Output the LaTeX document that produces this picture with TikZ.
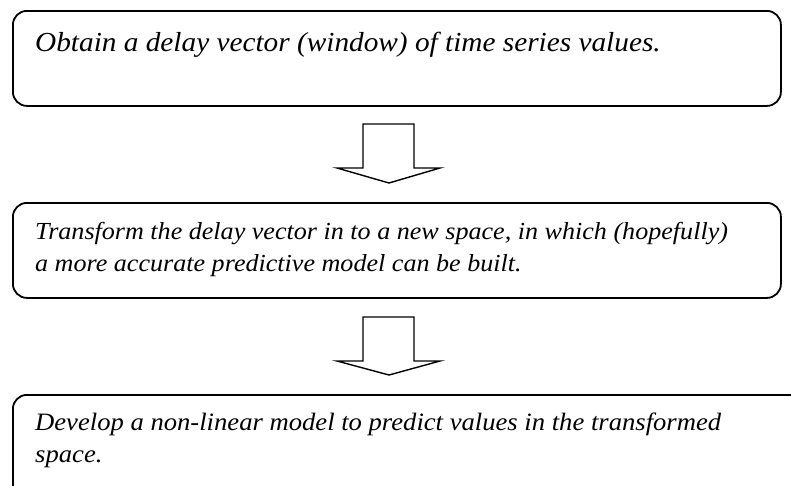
\documentclass[tikz,border=0pt]{standalone}
\usepackage{fontspec}
\setmainfont{Liberation Serif}
\newfontfamily\widefont{Liberation Serif}[FakeStretch=1.065]
\usetikzlibrary{calc}
\begin{document}
\begin{tikzpicture}[x=1pt,y=-1pt,
  stepbox/.style={draw=black, line width=1.8pt, rounded corners=14pt, fill=white, inner sep=0pt, anchor=north west},
  steptext/.style={anchor=base west, inner sep=0pt, align=left},
  bigtext/.style={font=\widefont\fontsize{27.5}{33}\selectfont\itshape},
  smalltext/.style={font=\widefont\fontsize{24.5}{31.5}\selectfont\itshape},
  lowtext/.style={font=\widefont\fontsize{25}{31.5}\selectfont\itshape},
  blockarrow/.style={draw=black, line width=1.4pt, fill=white, line join=miter}]
  \useasboundingbox (0,0) rectangle (791,485);
  \clip (0,0) rectangle (791,485);

  % step boxes
  \node[stepbox, minimum width=768pt, minimum height=95pt] (b1) at (12,10) {};
  \node[stepbox, minimum width=768pt, minimum height=95pt] (b2) at (12,202) {};
  \node[stepbox, minimum width=800pt, minimum height=120pt] (b3) at (12,394) {};

  % texts (anchored at the baseline of their last line)
  \node[steptext, bigtext] (t1) at (35,51) {Obtain a delay vector (window) of time series values.};
  \node[steptext, smalltext] (t2) at (35,271) {Transform the delay vector in to a new space, in which (hopefully)\\a more accurate predictive model can be built.};
  \node[steptext, lowtext] (t3) at (35,462) {Develop a non-linear model to predict values in the transformed\\space.};

  % block arrows between steps
  \coordinate (a1) at (389,124);
  \draw[blockarrow] ($(a1)+(-26,0)$) -- ($(a1)+(25,0)$) -- ($(a1)+(25,44)$) -- ($(a1)+(51,44)$)
     -- ($(a1)+(0,59)$) -- ($(a1)+(-52,44)$) -- ($(a1)+(-26,44)$) -- cycle;
  \coordinate (a2) at (389,317);
  \draw[blockarrow] ($(a2)+(-26,0)$) -- ($(a2)+(25,0)$) -- ($(a2)+(25,44)$) -- ($(a2)+(51,44)$)
     -- ($(a2)+(0,58)$) -- ($(a2)+(-52,44)$) -- ($(a2)+(-26,44)$) -- cycle;
\end{tikzpicture}
\end{document}
